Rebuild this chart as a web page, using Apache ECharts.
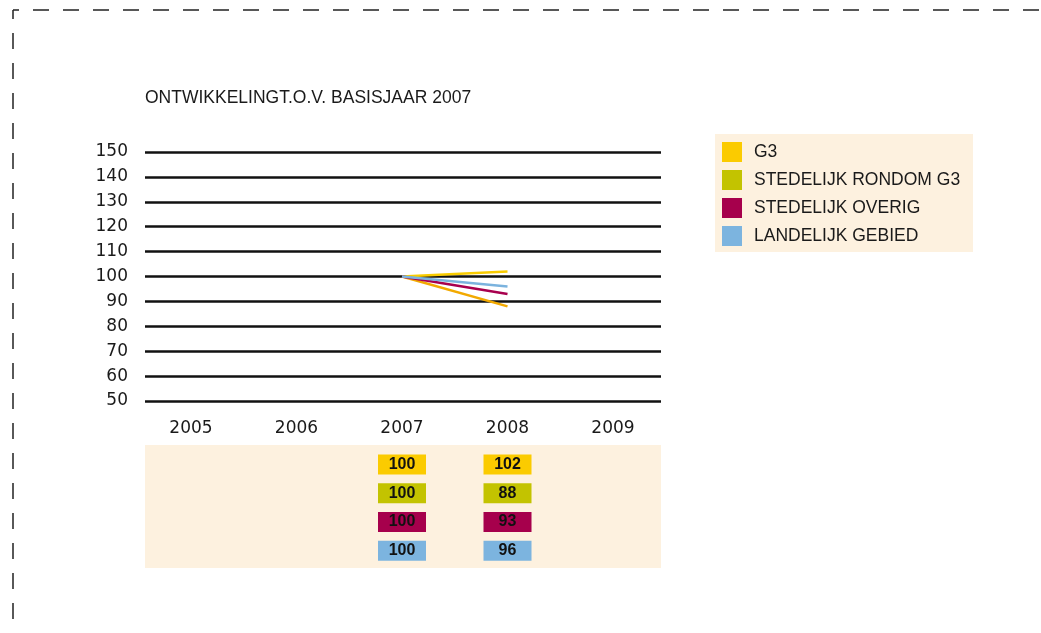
<!DOCTYPE html>
<html>
<head>
<meta charset="utf-8">
<style>
html, body { margin: 0; padding: 0; background: #fff; }
#chart { width: 1041px; height: 633px; }
</style>
<script src="https://cdn.jsdelivr.net/npm/echarts@6/dist/echarts.min.js"></script>
</head>
<body>
<div id="chart"></div>
<script>
var dom = document.getElementById("chart");
var myChart = echarts.init(dom);

// data
var years = ['2005', '2006', '2007', '2008', '2009'];
var yTicks = [50, 60, 70, 80, 90, 100, 110, 120, 130, 140, 150];
var seriesNames = ['G3', 'STEDELIJK RONDOM G3', 'STEDELIJK OVERIG', 'LANDELIJK GEBIED'];
var g3 = [null, null, 100, 102, null];
var rondomG3 = [null, null, 100, 88, null];
var overig = [null, null, 100, 93, null];
var landelijk = [null, null, 100, 96, null];
var allValues = [g3, rondomG3, overig, landelijk];

var boxColors = ['#fbcb00', '#c3c300', '#a6004c', '#7cb4df'];
var lineColors = ['#f9cc00', '#f2a900', '#a8004e', '#7bb3de'];
var beige = '#fdf1df';
var font = 'Liberation Sans';
var axisFont = 'DejaVu Sans';

var series = [];
for (var i = 0; i < seriesNames.length; i++) {
    series.push({
        name: seriesNames[i],
        type: 'line',
        xAxisIndex: 1,
        yAxisIndex: 1,
        data: allValues[i],
        symbol: 'none',
        lineStyle: { width: 2.5, color: lineColors[i] },
        itemStyle: { color: lineColors[i] },
        z: 5
    });
}
for (var i = 0; i < seriesNames.length; i++) {
    var pts = [];
    for (var j = 0; j < years.length; j++) {
        if (allValues[i][j] != null) {
            pts.push([years[j], seriesNames[i], allValues[i][j]]);
        }
    }
    series.push({
        name: seriesNames[i],
        type: 'scatter',
        xAxisIndex: 2,
        yAxisIndex: 2,
        data: pts,
        symbol: 'rect',
        symbolSize: [48, 20],
        itemStyle: { color: boxColors[i], opacity: 1 },
        label: {
            show: true,
            position: 'inside',
            formatter: function (p) { return p.value[2]; },
            color: '#111',
            fontFamily: font,
            fontWeight: 'bold',
            fontSize: 16
        },
        emphasis: { disabled: true },
        z: 5
    });
}

option = {
    backgroundColor: '#fff',
    animation: false,
    textStyle: { fontFamily: font },
    title: {
        text: 'ONTWIKKELINGT.O.V. BASISJAAR 2007',
        left: 140,
        top: 84,
        textStyle: { fontFamily: font, fontSize: 17.5, fontWeight: 'normal', color: '#1a1a1a' }
    },
    graphic: [
        { type: 'line', z: 0, shape: { x1: 13, y1: 10, x2: 1041, y2: 10 },
          style: { stroke: '#222', lineWidth: 1.5, lineDash: [16, 14], lineDashOffset: 10 } },
        { type: 'line', z: 0, shape: { x1: 13, y1: 10, x2: 13, y2: 633 },
          style: { stroke: '#222', lineWidth: 1.5, lineDash: [16, 14], lineDashOffset: 7 } },
        { type: 'rect', z: 0, shape: { x: 715, y: 134, width: 258, height: 118 }, style: { fill: beige } },
        { type: 'rect', z: 0, shape: { x: 145, y: 445, width: 516, height: 123 }, style: { fill: beige } }
    ],
    legend: {
        orient: 'vertical',
        left: 717,
        top: 137,
        padding: 5,
        itemWidth: 20,
        itemHeight: 20,
        itemGap: 8,
        icon: 'rect',
        selectedMode: false,
        textStyle: { fontFamily: font, fontSize: 17.5, color: '#1a1a1a', padding: [0, 0, 0, 7] },
        data: seriesNames.map(function (n, k) {
            return { name: n, itemStyle: { color: boxColors[k] } };
        })
    },
    grid: [
        { left: 145, width: 516, top: 152, height: 249 },
        { left: 191, width: 422, top: 152, height: 249 },
        { left: 191, width: 422, top: 450, height: 115 }
    ],
    xAxis: [
        { gridIndex: 0, type: 'category', data: years, show: false },
        {
            gridIndex: 1,
            type: 'category',
            data: years,
            boundaryGap: false,
            axisLine: { show: false },
            axisTick: { show: false },
            splitLine: { show: false },
            axisLabel: { margin: 19, fontFamily: axisFont, fontSize: 17, color: '#1a1a1a' }
        },
        { gridIndex: 2, type: 'category', data: years, boundaryGap: false, show: false }
    ],
    yAxis: [
        {
            gridIndex: 0,
            type: 'value',
            min: yTicks[0],
            max: yTicks[yTicks.length - 1],
            interval: 10,
            axisLine: { show: false },
            axisTick: { show: false },
            axisLabel: { margin: 17, fontFamily: axisFont, fontSize: 17, color: '#1a1a1a' },
            splitLine: { show: true, lineStyle: { color: '#111', width: 2.5 } }
        },
        {
            gridIndex: 1,
            type: 'value',
            min: yTicks[0],
            max: yTicks[yTicks.length - 1],
            interval: 10,
            show: false,
            splitLine: { show: false }
        },
        { gridIndex: 2, type: 'category', data: seriesNames, inverse: true, show: false }
    ],
    series: series
};

if (option && typeof option === "object") {
    myChart.setOption(option, true);
}
</script>
</body>
</html>
